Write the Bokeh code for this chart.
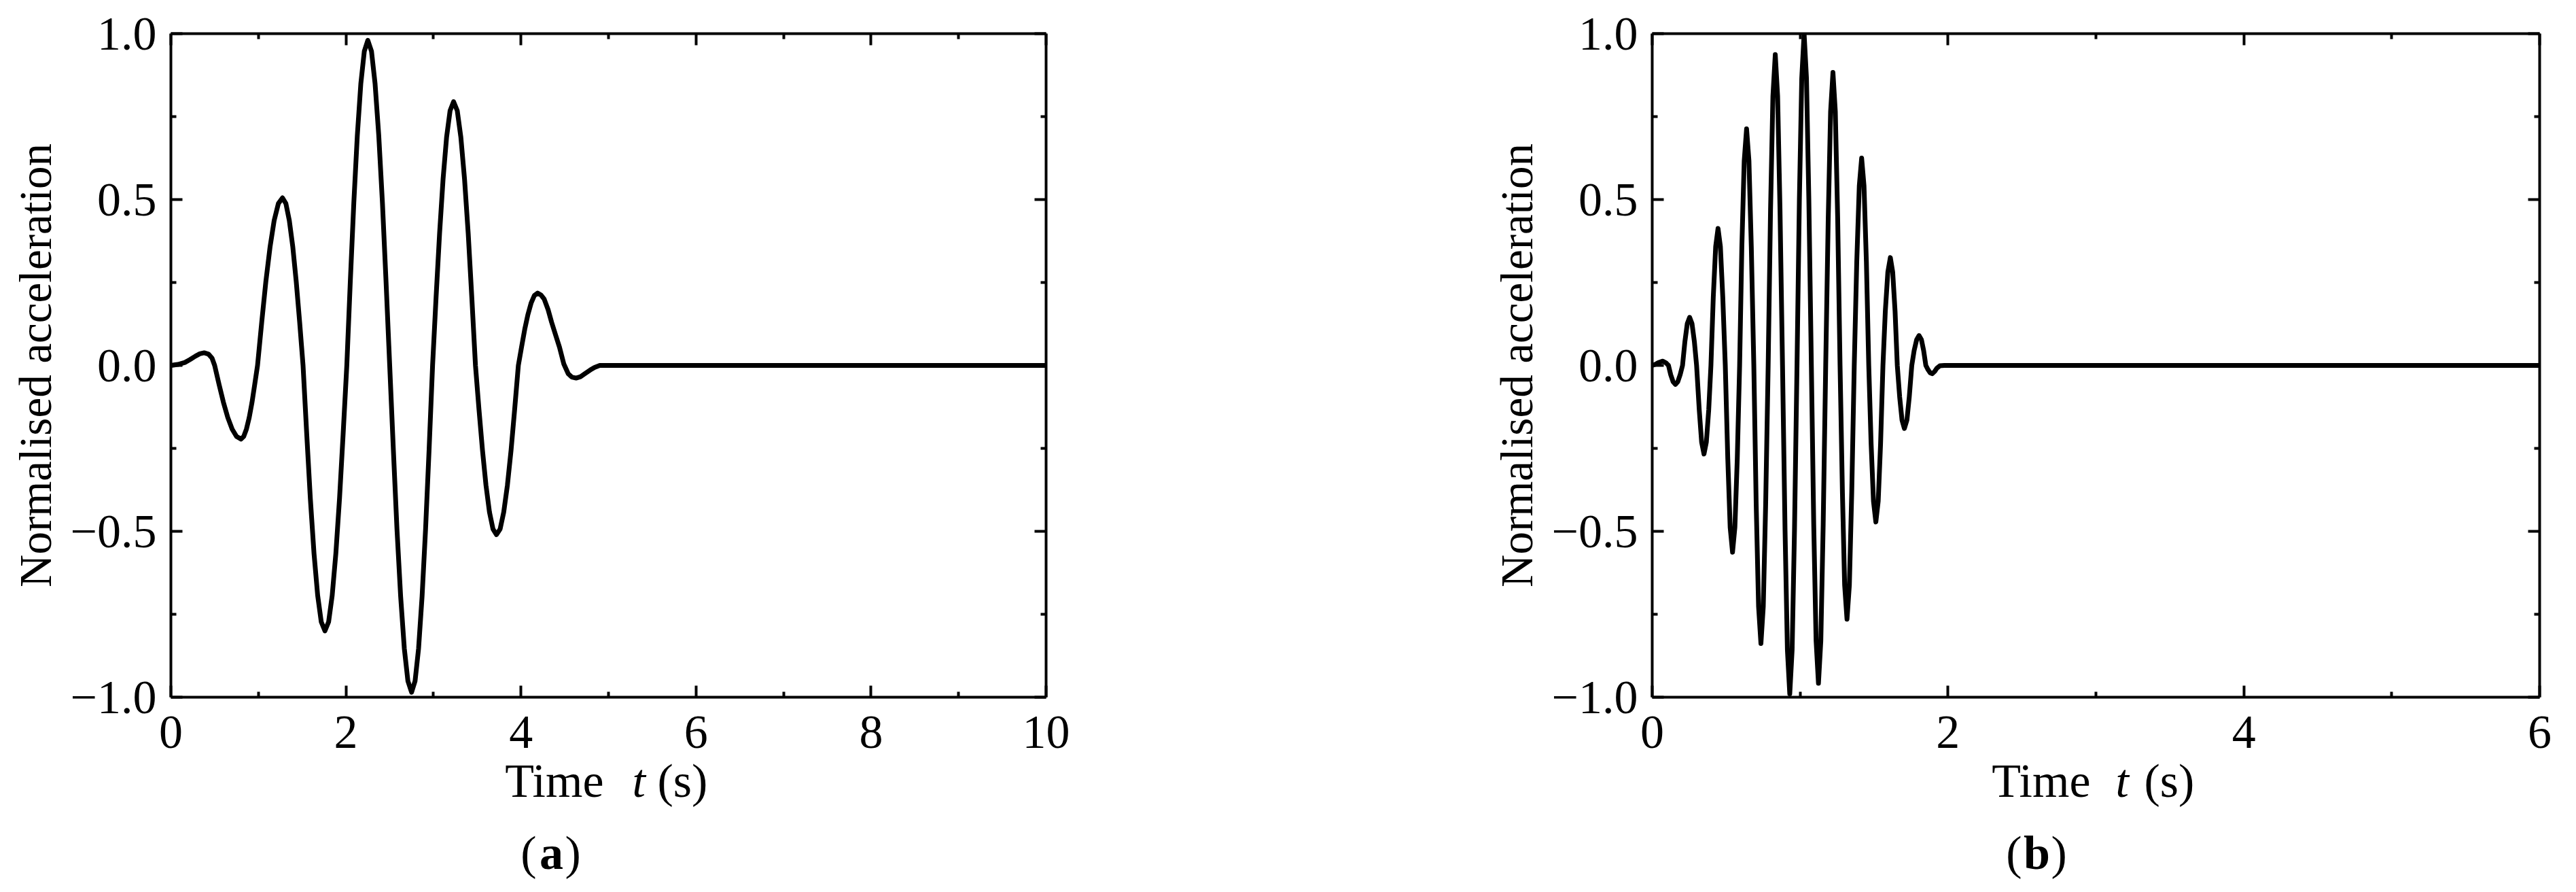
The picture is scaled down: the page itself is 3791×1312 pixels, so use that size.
from bokeh.plotting import figure
from bokeh.models import Range1d, LinearAxis, FixedTicker, CustomJSTickFormatter, Label
from bokeh.layouts import row
from bokeh.embed import file_html
from bokeh.resources import INLINE

# ---------------- data ----------------
# panel (a): time (s) and normalised acceleration
ta = [0.00, 0.08, 0.16, 0.22, 0.28, 0.33, 0.38, 0.43, 0.47, 0.50,
      0.55, 0.60, 0.65, 0.70, 0.75, 0.80, 0.832, 0.863, 0.895, 0.927, 0.958, 0.990,
      1.038, 1.085, 1.133, 1.180, 1.228, 1.275, 1.314, 1.353, 1.393, 1.432, 1.471, 1.510,
      1.552, 1.593, 1.635, 1.677, 1.718, 1.760, 1.802, 1.843, 1.885, 1.927, 1.968, 2.010,
      2.050, 2.090, 2.130, 2.170, 2.210, 2.250, 2.292, 2.333, 2.375, 2.417, 2.458, 2.500,
      2.542, 2.583, 2.625, 2.667, 2.708, 2.750, 2.790, 2.830, 2.870, 2.910, 2.950, 2.990,
      3.030, 3.070, 3.110, 3.150, 3.190, 3.230, 3.272, 3.313, 3.355, 3.397, 3.438, 3.480,
      3.520, 3.560, 3.600, 3.640, 3.680, 3.720, 3.762, 3.803, 3.845, 3.887, 3.928, 3.970,
      4.007, 4.043, 4.080, 4.117, 4.153, 4.190, 4.230, 4.265, 4.310, 4.350, 4.400, 4.440, 4.490,
      4.540, 4.580, 4.630, 4.680, 4.730, 4.790, 4.840, 4.900, 5.000, 10.000]
va = [0.000, 0.003, 0.009, 0.018, 0.028, 0.035, 0.038, 0.034, 0.022, 0.000,
      -0.057, -0.111, -0.157, -0.192, -0.214, -0.222, -0.214, -0.192, -0.157, -0.111, -0.057, 0.000,
      0.131, 0.253, 0.357, 0.437, 0.488, 0.505, 0.488, 0.437, 0.357, 0.253, 0.131, 0.000,
      -0.207, -0.400, -0.566, -0.693, -0.773, -0.800, -0.773, -0.693, -0.566, -0.400, -0.207, 0.000,
      0.254, 0.490, 0.693, 0.849, 0.947, 0.980, 0.947, 0.849, 0.693, 0.490, 0.254, 0.000,
      -0.255, -0.493, -0.696, -0.853, -0.951, -0.985, -0.951, -0.853, -0.696, -0.493, -0.255, 0.000,
      0.206, 0.398, 0.562, 0.688, 0.768, 0.795, 0.768, 0.688, 0.562, 0.398, 0.206, 0.000,
      -0.132, -0.255, -0.361, -0.442, -0.493, -0.510, -0.493, -0.442, -0.361, -0.255, -0.132, 0.000,
      0.056, 0.109, 0.154, 0.189, 0.211, 0.218, 0.212, 0.200, 0.168, 0.130, 0.088, 0.055, 0.004,
      -0.025, -0.035, -0.038, -0.034, -0.025, -0.014, -0.006, 0.000, 0.000, 0.000]

# panel (b): time (s) and normalised acceleration
tb = [0.000, 0.020, 0.040, 0.072, 0.095, 0.110, 0.125, 0.141, 0.157, 0.173, 0.189, 0.205,
      0.221, 0.237, 0.253, 0.269, 0.285, 0.300,
      0.318, 0.334, 0.350, 0.366, 0.382, 0.397,
      0.413, 0.429, 0.445, 0.461, 0.477, 0.494,
      0.511, 0.527, 0.543, 0.559, 0.575, 0.591,
      0.606, 0.622, 0.638, 0.654, 0.670, 0.687,
      0.703, 0.719, 0.735, 0.751, 0.767, 0.784,
      0.800, 0.816, 0.832, 0.848, 0.864, 0.881,
      0.898, 0.914, 0.930, 0.946, 0.962, 0.979,
      0.995, 1.011, 1.027, 1.043, 1.059, 1.076,
      1.092, 1.108, 1.124, 1.140, 1.156, 1.173,
      1.190, 1.206, 1.222, 1.238, 1.254, 1.270,
      1.286, 1.301, 1.317, 1.333, 1.349, 1.366,
      1.383, 1.400, 1.416, 1.432, 1.448, 1.464,
      1.480, 1.496, 1.512, 1.528, 1.544, 1.560,
      1.576, 1.593, 1.610, 1.626, 1.642, 1.657,
      1.673, 1.689, 1.705, 1.722, 1.738, 1.755,
      1.771, 1.788, 1.804, 1.820, 1.835, 1.850,
      1.865, 1.879, 1.893, 1.910, 1.925, 1.945, 1.975, 2.000, 6.000]
vb = [0.000, 0.003, 0.008, 0.013, 0.007, 0.000, -0.028, -0.049, -0.057, -0.049, -0.028, 0.000,
      0.072, 0.126, 0.145, 0.126, 0.072, 0.000,
      -0.134, -0.231, -0.267, -0.231, -0.134, 0.000,
      0.207, 0.358, 0.413, 0.358, 0.207, 0.000,
      -0.282, -0.488, -0.563, -0.488, -0.282, 0.000,
      0.357, 0.617, 0.713, 0.617, 0.357, 0.000,
      -0.419, -0.726, -0.838, -0.726, -0.419, 0.000,
      0.469, 0.811, 0.937, 0.811, 0.469, 0.000,
      -0.495, -0.857, -0.990, -0.857, -0.495, 0.000,
      0.500, 0.866, 1.000, 0.866, 0.500, 0.000,
      -0.479, -0.830, -0.958, -0.830, -0.479, 0.000,
      0.442, 0.765, 0.883, 0.765, 0.442, 0.000,
      -0.383, -0.662, -0.765, -0.662, -0.383, 0.000,
      0.313, 0.541, 0.625, 0.541, 0.313, 0.000,
      -0.236, -0.409, -0.472, -0.409, -0.236, 0.000,
      0.163, 0.281, 0.325, 0.281, 0.163, 0.000,
      -0.095, -0.165, -0.190, -0.165, -0.095, 0.000,
      0.045, 0.078, 0.090, 0.078, 0.045, 0.000,
      -0.013, -0.022, -0.025, -0.018, -0.008, -0.001, 0.000, 0.000, 0.000]

xa_ticks = [0, 2, 4, 6, 8, 10]
xa_minor = [1, 3, 5, 7, 9]
xb_ticks = [0, 2, 4, 6]
xb_minor = [1, 3, 5]
y_ticks = [-1.0, -0.5, 0.0, 0.5, 1.0]
y_minor = [-0.75, -0.25, 0.25, 0.75]

y_title = "Normalised acceleration"
x_title = ("Time", "t", "(s)")
letters = ("a", "b")

FONT = "Liberation Serif"
TICK_FS = "70px"

y_fmt = CustomJSTickFormatter(code="return (tick < 0 ? '\u2212' : '') + Math.abs(tick).toFixed(1);")
x_fmt = CustomJSTickFormatter(code="return tick.toFixed(0);")
blank_fmt = CustomJSTickFormatter(code="return '';")

Y_TITLE_OFF = -123   # baseline of the x-axis title below the frame (px)
Y_LETTER_OFF = -229  # baseline of the panel letter below the frame (px)


def style_axis(ax, ticks, minor, fmt, show):
    ax.ticker = FixedTicker(ticks=ticks, minor_ticks=minor)
    ax.formatter = fmt
    ax.axis_line_color = "black"
    ax.axis_line_width = 4
    ax.major_tick_line_color = "black"
    ax.major_tick_line_width = 4
    ax.minor_tick_line_color = "black"
    ax.minor_tick_line_width = 4
    ax.major_tick_in = 17
    ax.major_tick_out = 0
    ax.minor_tick_in = 8
    ax.minor_tick_out = 0
    ax.major_label_text_font = FONT
    ax.major_label_text_color = "black"
    ax.major_label_text_font_size = TICK_FS if show else "1px"
    if not show:
        ax.major_label_standoff = 0


def make_panel(t, v, xmax, xticks, xminor, width, bl, br, letter, offs, spare_side):
    p = figure(width=width, height=1312, output_backend="svg", toolbar_location=None,
               x_range=Range1d(0, xmax), y_range=Range1d(-1.0, 1.0),
               min_border_left=bl, min_border_right=br, min_border_top=49, min_border_bottom=287,
               background_fill_color="white", border_fill_color="white")
    p.outline_line_color = None
    p.xgrid.visible = False
    p.ygrid.visible = False

    style_axis(p.xaxis[0], xticks, xminor, x_fmt, True)
    p.xaxis[0].major_label_standoff = 28
    style_axis(p.yaxis[0], y_ticks, y_minor, y_fmt, True)
    p.yaxis[0].major_label_standoff = 21
    p.yaxis[0].axis_label = y_title
    p.yaxis[0].axis_label_text_font = FONT
    p.yaxis[0].axis_label_text_font_size = "67px"
    p.yaxis[0].axis_label_text_font_style = "normal"
    p.yaxis[0].axis_label_text_color = "black"
    p.yaxis[0].axis_label_standoff = 12

    top = LinearAxis()
    style_axis(top, xticks, xminor, blank_fmt, False)
    p.add_layout(top, "above")
    right = LinearAxis()
    style_axis(right, y_ticks, y_minor, blank_fmt, False)
    p.add_layout(right, "right")

    p.line(t, v, line_color="black", line_width=7, line_join="round")

    xc = xmax / 2.0
    time_r, t_l, s_l, par_l, let_c, par_r = offs
    common = dict(x=xc, y=-1.0, text_font=FONT, text_font_size="70px", text_color="black",
                  text_baseline="alphabetic")
    # labels placed in side panels so they are not clipped to the plot frame
    p.add_layout(Label(text=x_title[0], text_align="right", x_offset=time_r, y_offset=Y_TITLE_OFF,
                       **common), "below")
    p.add_layout(Label(text=letter, text_align="center", x_offset=let_c, y_offset=Y_LETTER_OFF,
                       text_font_style="bold", **common), "below")
    p.add_layout(Label(text=x_title[1], text_align="left", x_offset=t_l, y_offset=Y_TITLE_OFF,
                       text_font_style="italic", **common), spare_side)
    p.add_layout(Label(text=x_title[2], text_align="left", x_offset=s_l, y_offset=Y_TITLE_OFF,
                       **common), spare_side)
    p.add_layout(Label(text="(", text_align="right", x_offset=par_l, y_offset=Y_LETTER_OFF,
                       **common), spare_side)
    p.add_layout(Label(text=")", text_align="left", x_offset=par_r, y_offset=Y_LETTER_OFF,
                       **common), spare_side)
    return p


pa = make_panel(ta, va, 10, xa_ticks, xa_minor, 2000, 251, 461, letters[0],
                (-7, 35, 72, -106, -84, -64), "right")
pb = make_panel(tb, vb, 6, xb_ticks, xb_minor, 1791, 431, 54, letters[1],
                (-8, 29, 71, -109, -87, -66), "left")

layout = row(pa, pb)
open("out.html", "w").write(file_html(layout, INLINE))
